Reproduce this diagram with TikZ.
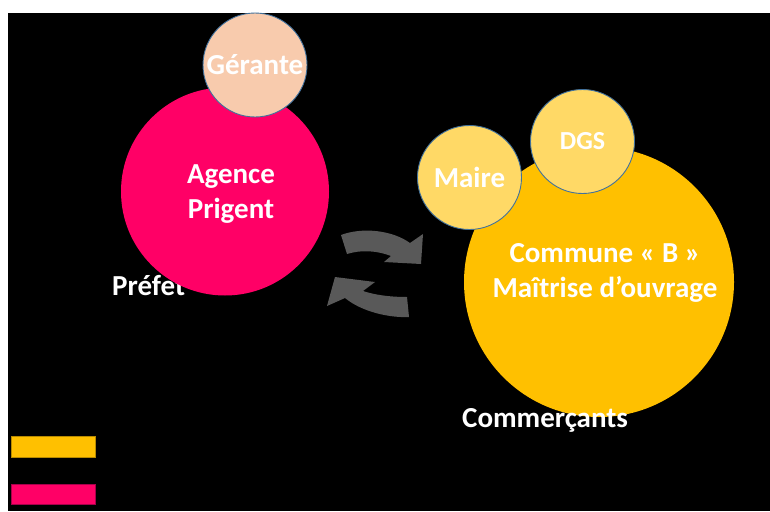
\documentclass[tikz,border=0pt]{standalone}
\usepackage{fontspec}
\setmainfont{Carlito}
\definecolor{fuchsia}{HTML}{FF0066}
\definecolor{fuchsiafonce}{HTML}{A8004A}
\definecolor{peche}{HTML}{F8CBAD}
\definecolor{ambre}{HTML}{FFC000}
\definecolor{ambrefonce}{HTML}{B88A00}
\definecolor{jaunepale}{HTML}{FFD966}
\definecolor{bleucontour}{HTML}{41719C}
\definecolor{grisfleche}{HTML}{595959}
\tikzset{
  every picture/.style={font=\bfseries},
  grand/.style={circle, inner sep=0pt},
  petit/.style={circle, inner sep=0pt, draw=bleucontour, line width=0.9pt, minimum size=104pt,
              text=white, font=\bfseries\fontsize{29}{35}\selectfont},
  etiq/.style={text=white, inner sep=0pt, align=center, font=\bfseries\fontsize{29}{35}\selectfont},
  fleche/.style={fill=grisfleche},
  legende/.style={line width=0.6pt},
}

\begin{document}
\begin{tikzpicture}[x=1pt, y=-1pt]
  \useasboundingbox (0,0) rectangle (770,511);
  \fill[white] (0,0) rectangle (770,511);
  \fill[black] (8,13) rectangle (770,511);

  % acteurs hors cercles
  \node[etiq, anchor=base west] (prefet) at (112,295) {Préfet};

  % agence
  \node[grand, fill=fuchsia, minimum size=208pt] (agence) at (225,191.5) {};
  \node[etiq, anchor=base] (agencetxt) at (231,218) {Agence\\Prigent};
  \node[petit, fill=peche] (gerante) at (255,65) {Gérante};

  % commune
  \node[grand, fill=ambre, minimum size=270pt] (commune) at (599,282) {};
  \node[etiq, anchor=base] (communetxt) at (605,297) {Commune « B »\\Maîtrise d’ouvrage};
  \node[petit, fill=jaunepale] (maire) at (469.5,177.5) {Maire};
  \node[petit, fill=jaunepale, font=\bfseries\fontsize{26}{30}\selectfont] (dgs) at (582.5,141.5) {DGS};
  \node[etiq, anchor=base west] (commercants) at (462,427) {Commerçants};

  % echange
  \fill[fleche] (341,235) .. controls (362,227) and (392,230) .. (410,243) -- (423,234) -- (421,264)
    -- (384,262) -- (391,256) .. controls (375,250) and (360,250) .. (347,254) -- cycle;
  \fill[fleche] (327,306) -- (335,277) -- (375,282) -- (363,291) .. controls (378,296) and (395,297) .. (407,297)
    -- (409,317) .. controls (390,318) and (362,312) .. (345,298) -- cycle;

  % legende
  \draw[legende, fill=ambre, draw=ambrefonce] (11,436) rectangle (95,457);
  \draw[legende, fill=fuchsia, draw=fuchsiafonce] (11,484) rectangle (95,504);
\end{tikzpicture}
\end{document}
